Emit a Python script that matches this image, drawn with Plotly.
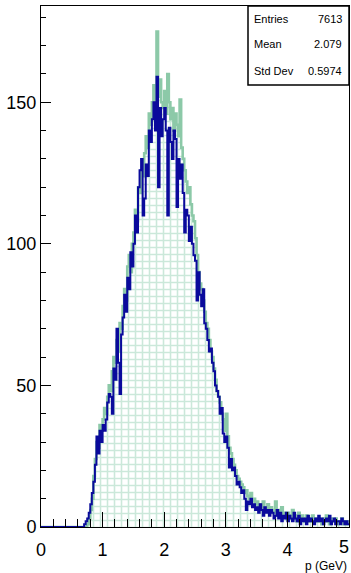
import plotly.graph_objects as go

# 200 bins from 0 to 5 (width 0.025)
n_bins = 200
x_min, x_max = 0.0, 5.0

green_counts = [0] * 30 + [
    1, 3, 6, 10, 18, 24, 30, 28, 36, 34,
    38, 42, 40, 46, 50, 48, 55, 60, 58, 66,
    62, 72, 70, 78, 84, 80, 92, 96, 90, 100,
    104, 112, 108, 120, 118, 126, 124, 132, 138, 134,
    146, 142, 150, 156, 148, 175, 152, 158, 150, 148,
    154, 146, 160, 150, 144, 148, 140, 146, 142, 138,
    151, 134, 130, 126, 122, 118, 120, 114, 110, 108,
    102, 96, 90, 86, 84, 80, 76, 72, 70, 66,
    62, 60, 56, 52, 48, 46, 44, 40, 38, 34,
    40, 32, 28, 26, 24, 22, 20, 18, 17, 16,
    15, 14, 12, 13, 11, 10, 12, 9, 10, 8,
    9, 7, 8, 6, 9, 7, 6, 8, 5, 7,
    6, 5, 9, 4, 6, 5, 7, 4, 5, 3,
    5, 3, 4, 6, 3, 4, 2, 5, 3, 4,
    3, 2, 4, 3, 2, 3, 4, 2, 3, 2,
    3, 2, 1, 3, 2, 4, 2, 1, 3, 2,
    2, 3, 1, 2, 2, 3, 1, 2, 1, 2,
]

blue_counts = [0] * 28 + [
    1, 2,
    3, 5, 8, 12, 16, 22, 32, 26, 34, 30,
    36, 34, 38, 44, 47, 46, 40, 56, 52, 70,
    58, 47, 68, 74, 82, 76, 88, 84, 97, 92,
    100, 110, 104, 120, 126, 130, 110, 116, 128, 124,
    140, 136, 144, 150, 140, 159, 120, 148, 138, 144,
    148, 140, 110, 141, 136, 130, 140, 137, 113, 130,
    123, 128, 118, 104, 112, 110, 101, 106, 100, 96,
    94, 80, 90, 82, 78, 84, 72, 70, 66, 62,
    63, 58, 55, 50, 48, 46, 40, 42, 33, 30,
    32, 28, 21, 24, 20, 21, 18, 15, 16, 14,
    12, 13, 10, 6, 9, 8, 10, 7, 8, 6,
    7, 5, 8, 6, 4, 7, 5, 6, 4, 6,
    5, 3, 4, 6, 3, 5, 2, 4, 3, 5,
    2, 4, 3, 2, 5, 3, 2, 4, 1, 3,
    2, 3, 1, 4, 2, 3, 2, 1, 3, 2,
    4, 2, 3, 1, 2, 3, 2, 4, 1, 2,
    3, 1, 2, 2, 1, 3, 2, 1, 2, 1,
]

stat_labels = ["Entries", "Mean", "Std Dev"]
stat_values = ["7613", "2.079", "0.5974"]

bin_w = (x_max - x_min) / n_bins
edges = [x_min + i * bin_w for i in range(n_bins + 1)]

GREEN = "#8cc9a8"
BLUE = "#0a0a9c"

fig = go.Figure()
fig.add_trace(go.Scatter(
    x=edges, y=green_counts + [green_counts[-1]],
    mode="lines", line=dict(color=GREEN, width=2.6, shape="hv"),
    fill="tozeroy",
    fillpattern=dict(shape="+", fgcolor="#98d2b6", bgcolor="white", size=7, solidity=0.4),
    hoverinfo="skip", showlegend=False,
))
fig.add_trace(go.Scatter(
    x=edges, y=blue_counts + [blue_counts[-1]],
    mode="lines", line=dict(color=BLUE, width=2, shape="hv"),
    hoverinfo="skip", showlegend=False,
))

font = "Liberation Sans, Arial, sans-serif"
fig.update_layout(
    width=351, height=573,
    margin=dict(l=41, r=2, t=6, b=46),
    paper_bgcolor="white", plot_bgcolor="white",
    font=dict(family=font, color="black"),
    xaxis=dict(
        range=[x_min, x_max], showgrid=False, zeroline=False,
        showline=True, mirror=True, linecolor="black", linewidth=1,
        ticks="inside", ticklen=15, tickcolor="black", tickwidth=1,
        dtick=1, tick0=0, tickfont=dict(size=18), ticklabelstandoff=6,
        minor=dict(ticks="inside", ticklen=8, dtick=0.2, tickcolor="black", showgrid=False),
    ),
    yaxis=dict(
        range=[0, 184], showgrid=False, zeroline=False,
        showline=True, mirror=True, linecolor="black", linewidth=1,
        ticks="inside", ticklen=10, tickcolor="black", tickwidth=1,
        dtick=50, tick0=0, tickfont=dict(size=18),
        minor=dict(ticks="inside", ticklen=5, dtick=10, tickcolor="black", showgrid=False),
    ),
)

# stats box
px2x = lambda p: (p - 41) / 308
py2y = lambda p: (527 - p) / 521
fig.add_shape(type="rect", xref="paper", yref="paper",
              x0=px2x(248), x1=1.0, y0=py2y(85), y1=1.0,
              fillcolor="white", line=dict(color="black", width=1.5), layer="above")
rows_py = [19, 44, 71]
for lab, val, py in zip(stat_labels, stat_values, rows_py):
    fig.add_annotation(xref="paper", yref="paper", x=px2x(252), y=py2y(py),
                       text=lab, showarrow=False, xanchor="left", yanchor="middle",
                       font=dict(size=11, family=font, color="black"))
    fig.add_annotation(xref="paper", yref="paper", x=px2x(344), y=py2y(py),
                       text=val, showarrow=False, xanchor="right", yanchor="middle",
                       font=dict(size=11, family=font, color="black"))

# last x tick label (kept inside the page edge)
fig.add_annotation(xref="paper", yref="paper", x=px2x(351), y=py2y(547),
                   text="5", showarrow=False, xanchor="right", yanchor="middle",
                   font=dict(size=18, family=font, color="black"))

fig.add_annotation(xref="paper", yref="paper", x=px2x(349), y=py2y(566),
                   text="p (GeV)", showarrow=False, xanchor="right", yanchor="middle",
                   font=dict(size=12, family=font, color="black"))

fig.write_html("out.html")
